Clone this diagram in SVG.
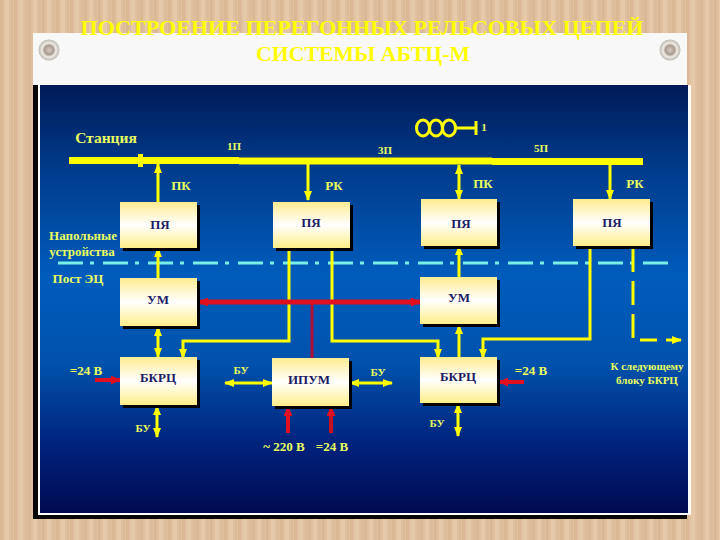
<svg xmlns="http://www.w3.org/2000/svg" width="720" height="540" viewBox="0 0 720 540">
<defs>
<pattern id="wood" width="14" height="540" patternUnits="userSpaceOnUse">
<rect width="14" height="540" fill="#e0c09e"/>
<rect x="0" width="3" height="540" fill="#d9b893"/>
<rect x="5" width="4" height="540" fill="#e6c9a8"/>
<rect x="11" width="2" height="540" fill="#dcbb98"/>
</pattern>
<linearGradient id="sky" x1="0" y1="0" x2="0" y2="1">
<stop offset="0" stop-color="#001a58"/>
<stop offset="0.2" stop-color="#003c8c"/>
<stop offset="0.45" stop-color="#005cbc"/>
<stop offset="0.65" stop-color="#0052ac"/>
<stop offset="0.85" stop-color="#00207a"/>
<stop offset="1" stop-color="#000a50"/>
</linearGradient>
<linearGradient id="box" x1="0" y1="0" x2="0" y2="1">
<stop offset="0" stop-color="#ffec90"/>
<stop offset="0.5" stop-color="#ffffff"/>
<stop offset="1" stop-color="#ffee88"/>
</linearGradient>
<radialGradient id="screw" cx="0.5" cy="0.5" r="0.55">
<stop offset="0" stop-color="#d8ccc0"/>
<stop offset="0.4" stop-color="#a89a8e"/>
<stop offset="0.6" stop-color="#f0ece6"/>
<stop offset="1" stop-color="#a8a8a0"/>
</radialGradient>
<marker id="ay" viewBox="0 0 10 10" refX="9" refY="5" markerUnits="userSpaceOnUse" markerWidth="10" markerHeight="8" preserveAspectRatio="none" orient="auto-start-reverse"><path d="M0 0L10 5L0 10Z" fill="#ffff00"/></marker>
<marker id="ar" viewBox="0 0 10 10" refX="9" refY="5" markerUnits="userSpaceOnUse" markerWidth="10" markerHeight="9" preserveAspectRatio="none" orient="auto-start-reverse"><path d="M0 0L10 5L0 10Z" fill="#e01020"/></marker>
</defs>
<style>
text{font-family:"Liberation Serif","Times New Roman",serif;font-weight:bold}
.title{font-size:21px;fill:#ffff00;text-anchor:middle}
.lbl{fill:#eaff60;text-anchor:middle}
.s13{font-size:13px}.s12{font-size:12.500px}.s11{font-size:11px}
.nt{font-size:13px;fill:#1c1c64;text-anchor:middle}
.y{fill:none;stroke:#ffff00;stroke-width:3}
.r{fill:none;stroke:#e01020;stroke-width:4}
.ya{marker-end:url(#ay)}
.yb{marker-start:url(#ay);marker-end:url(#ay)}
.ra{marker-end:url(#ar)}
.rb{marker-start:url(#ar);marker-end:url(#ar)}
.sh{fill:#000}
.bx{fill:url(#box)}
</style>
<rect width="720" height="540" fill="url(#wood)"/>
<rect x="33" y="33" width="654" height="55" fill="#f8f8f8"/>
<rect x="33" y="85" width="654" height="434" fill="#0a0804"/>
<rect x="38" y="85" width="653" height="430" fill="#ffffff"/>
<rect x="40" y="85" width="648" height="428" fill="url(#sky)"/>
<circle cx="49" cy="50" r="10.500" fill="url(#screw)"/>
<circle cx="670" cy="50" r="10.500" fill="url(#screw)"/>
<text class="title" x="362" y="35" textLength="563" lengthAdjust="spacingAndGlyphs">ПОСТРОЕНИЕ ПЕРЕГОННЫХ РЕЛЬСОВЫХ ЦЕПЕЙ</text>
<text class="title" x="363" y="61" textLength="214" lengthAdjust="spacingAndGlyphs">СИСТЕМЫ АБТЦ-М</text>

<g id="connectors">
<rect x="69" y="157" width="170" height="7" fill="#ffff00"/>
<rect x="239" y="157.500" width="253" height="7" fill="#ffff00"/>
<rect x="492" y="158" width="151" height="7" fill="#ffff00"/>
<rect x="138" y="154" width="5" height="13" fill="#ffff00"/>
<g id="coil" class="y">
<ellipse cx="423" cy="128" rx="6.500" ry="8"/>
<ellipse cx="436" cy="128" rx="6.500" ry="8"/>
<ellipse cx="449" cy="128" rx="6.500" ry="8"/>
<path d="M456 128H476M476 121V135"/>
</g>
<path class="y ya" d="M158 202V164"/>
<path class="y ya" d="M308 164V200"/>
<path class="y yb" d="M459 165V199"/>
<path class="y ya" d="M610 165V199"/>
<path d="M58 263H668" fill="none" stroke="#78f0e8" stroke-width="3" stroke-dasharray="25 7 4 9"/>
<path class="y ya" d="M158 278V248"/>
<path class="y ya" d="M459 277V246"/>
<path class="y yb" d="M158 327V357"/>
<path class="y ya" d="M459 357V325"/>
<path class="y ya" d="M289 248V341H183V358"/>
<path class="y ya" d="M332 248V341H438V358"/>
<path class="y ya" d="M590 246V339H483V358"/>
<path class="y" d="M633 248V340H657" stroke-dasharray="24 9"/>
<path class="y ya" d="M666 340H681"/>
<path class="y yb" d="M157 406V437"/>
<path class="y yb" d="M458 404V436"/>
<path class="y yb" d="M225 383H272"/>
<path class="y yb" d="M350 383H392"/>
<path class="r" d="M312 302V358" style="stroke:#b01038;stroke-width:3"/>
<path class="r rb" style="stroke-width:5" d="M199 302H420"/>
<path class="r ra" d="M95 380H120"/>
<path class="r ra" d="M524 382H499"/>
<path class="r ra" d="M288 433V407"/>
<path class="r ra" style="stroke:#c81020" d="M331 433V407"/>
</g>

<g id="pya1"><rect class="sh" x="123" y="205" width="77" height="46"/><rect class="bx" x="120" y="202" width="77" height="46"/><text class="nt" x="160" y="229">ПЯ</text></g>
<g id="pya2"><rect class="sh" x="276" y="205" width="77" height="46"/><rect class="bx" x="273" y="202" width="77" height="46"/><text class="nt" x="311" y="227">ПЯ</text></g>
<g id="pya3"><rect class="sh" x="424" y="202" width="76" height="47"/><rect class="bx" x="421" y="199" width="76" height="47"/><text class="nt" x="461" y="228">ПЯ</text></g>
<g id="pya4"><rect class="sh" x="576" y="202" width="77" height="47"/><rect class="bx" x="573" y="199" width="77" height="47"/><text class="nt" x="612" y="227">ПЯ</text></g>
<g id="um1"><rect class="sh" x="123" y="281" width="77" height="48"/><rect class="bx" x="120" y="278" width="77" height="48"/><text class="nt" x="158" y="304">УМ</text></g>
<g id="um2"><rect class="sh" x="423" y="280" width="77" height="47"/><rect class="bx" x="420" y="277" width="77" height="47"/><text class="nt" x="459" y="302">УМ</text></g>
<g id="bkrc1"><rect class="sh" x="123" y="360" width="77" height="48"/><rect class="bx" x="120" y="357" width="77" height="48"/><text class="nt" x="158" y="382">БКРЦ</text></g>
<g id="ipum"><rect class="sh" x="275" y="361" width="77" height="48"/><rect class="bx" x="272" y="358" width="77" height="48"/><text class="nt" x="309" y="384">ИПУМ</text></g>
<g id="bkrc2"><rect class="sh" x="423" y="360" width="77" height="46"/><rect class="bx" x="420" y="357" width="77" height="46"/><text class="nt" x="458" y="381">БКРЦ</text></g>

<g id="labels">
<text class="lbl" x="106" y="143" style="font-size:15.500px">Станция</text>
<text class="lbl s11" x="234" y="150">1П</text>
<text class="lbl s11" x="385" y="154">3П</text>
<text class="lbl s11" x="541" y="152">5П</text>
<text class="lbl s11" x="484" y="131">1</text>
<text class="lbl s13" x="181" y="190">ПК</text>
<text class="lbl s13" x="334" y="190">РК</text>
<text class="lbl s13" x="483" y="188">ПК</text>
<text class="lbl s13" x="635" y="188">РК</text>
<text class="lbl s13" x="83" y="240">Напольные</text>
<text class="lbl s13" x="82" y="256">устройства</text>
<text class="lbl s13" x="78" y="283">Пост ЭЦ</text>
<text class="lbl s13" x="86" y="375">=24 В</text>
<text class="lbl s13" x="531" y="375">=24 В</text>
<text class="lbl s11" x="143" y="432">БУ</text>
<text class="lbl s11" x="241" y="374">БУ</text>
<text class="lbl s11" x="378" y="376">БУ</text>
<text class="lbl s11" x="437" y="427">БУ</text>
<text class="lbl s13" x="284" y="451">~ 220 В</text>
<text class="lbl s13" x="332" y="451">=24 В</text>
<text class="lbl s11" x="647" y="370">К следующему</text>
<text class="lbl s11" x="647" y="384">блоку БКРЦ</text>
</g>
</svg>
